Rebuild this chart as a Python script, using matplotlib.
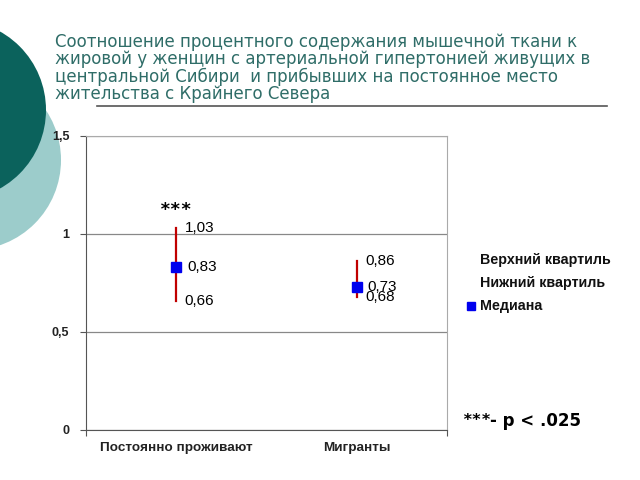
import matplotlib.pyplot as plt
from matplotlib.patches import Circle

plt.rcParams['font.family'] = ['Liberation Sans', 'DejaVu Sans']

# data
groups = ["Постоянно проживают", "Мигранты"]
upper = [1.03, 0.86]
lower = [0.66, 0.68]
median = [0.83, 0.73]
labels_up = ["1,03", "0,86"]
labels_med = ["0,83", "0,73"]
labels_low = ["0,66", "0,68"]
yticks = [0, 0.5, 1, 1.5]
ytick_labels = ["0", "0,5", "1", "1,5"]
title_lines = ["Соотношение процентного содержания мышечной ткани к",
               "жировой у женщин с артериальной гипертонией живущих в",
               "центральной Сибири  и прибывших на постоянное место",
               "жительства с Крайнего Севера"]
legend_items = ["Верхний квартиль", "Нижний квартиль", "Медиана"]

fig = plt.figure(figsize=(6.4, 4.8), dpi=100)

# background decoration in pixel coords
bg = fig.add_axes([0, 0, 1, 1], zorder=0)
bg.set_xlim(0, 640)
bg.set_ylim(480, 0)
bg.axis('off')
bg.add_patch(Circle((-29, 160), 90, color='#9ccccb', lw=0))
bg.add_patch(Circle((-44, 110), 90, color='#0b625c', lw=0))
for i, line in enumerate(title_lines):
    bg.text(55, 47 + i * 17.4, line, fontsize=12.0, color='#2f6d68', va='baseline', ha='left',
            family='DejaVu Sans')
bg.plot([97, 607], [106, 106], color='#555555', lw=1.2)

ax = fig.add_axes([86 / 640, 1 - 430 / 480, 361 / 640, 294 / 480], zorder=1)
ax.set_xlim(0, 2)
ax.set_ylim(0, 1.5)
x = [0.5 + i for i in range(len(groups))]

for xi, lo, hi, md in zip(x, lower, upper, median):
    ax.plot([xi, xi], [lo, hi], color='#c00000', lw=1.6, zorder=3)
    ax.plot(xi, md, 's', color='#0000ee', ms=7.5, zorder=4)

for xi, hi, md, lo, lu, lm, ll in zip(x, upper, median, lower, labels_up, labels_med, labels_low):
    ax.annotate(lu, (xi, hi), xytext=(6, 0), textcoords='offset points', va='center', fontsize=11)
    ax.annotate(lm, (xi, md), xytext=(8, 0), textcoords='offset points', va='center', fontsize=11)
    ax.annotate(ll, (xi, lo), xytext=(6, 0), textcoords='offset points', va='center', fontsize=11)

ax.text(x[0], 1.125, "***", ha='center', va='center', fontsize=13, fontweight='bold',
        family='DejaVu Sans Mono')

ax.set_yticks(yticks)
ax.set_yticklabels(ytick_labels, fontsize=9, fontweight='bold', color='#222222')
ax.set_xticks([0, 2])
ax.set_xticklabels([])
ax.set_xticks(x, minor=True)
ax.set_xticklabels(groups, minor=True, fontsize=9.7, fontweight='bold', color='#222222')
ax.tick_params(axis='x', which='minor', length=0, pad=9)
ax.tick_params(axis='x', which='major', length=4, color='#555555')
ax.tick_params(axis='y', length=4, color='#555555', pad=8)
ax.grid(axis='y', color='#888888', lw=0.9)
ax.set_axisbelow(True)
ax.spines['left'].set_color('#555555')
ax.spines['bottom'].set_color('#555555')
ax.spines['top'].set_color('#aaaaaa')
ax.spines['right'].set_color('#aaaaaa')

# legend as text
bg.text(480, 260, legend_items[0], fontsize=10.3, fontweight='bold', va='center', color='#111111')
bg.text(480, 283, legend_items[1], fontsize=10.3, fontweight='bold', va='center', color='#111111')
bg.text(480, 306, legend_items[2], fontsize=10.3, fontweight='bold', va='center', color='#111111')
bg.plot(471, 306, 's', color='#0000ee', ms=5.5)
bg.text(462, 421, "***", fontsize=11.5, fontweight='bold', va='center', family='DejaVu Sans Mono')
bg.text(490, 421, "- p < .025", fontsize=12, fontweight='bold', va='center', family='DejaVu Sans')

fig.savefig('out.png', dpi=100)
